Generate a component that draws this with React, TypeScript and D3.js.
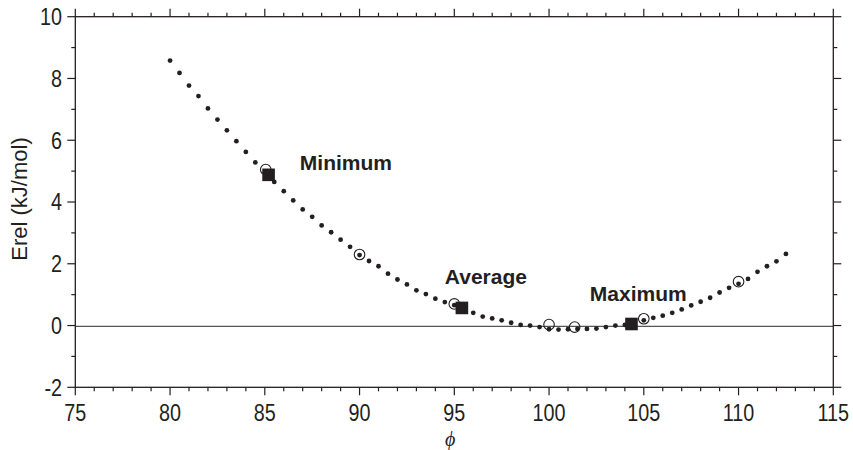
import React from "react";
import * as d3 from "d3";

// Sampled curve (small dots)
const phiDots = [
  80.0, 80.5, 81.0, 81.5, 82.0, 82.5, 83.0, 83.5, 84.0, 84.5, 85.0, 85.5, 86.0, 86.5, 87.0, 87.5,
  88.0, 88.5, 89.0, 89.5, 90.0, 90.5, 91.0, 91.5, 92.0, 92.5, 93.0, 93.5, 94.0, 94.5, 95.0, 95.5,
  96.0, 96.5, 97.0, 97.5, 98.0, 98.5, 99.0, 99.5, 100.0, 100.5, 101.0, 101.5, 102.0, 102.5, 103.0,
  103.5, 104.0, 104.5, 105.0, 105.5, 106.0, 106.5, 107.0, 107.5, 108.0, 108.5, 109.0, 109.5, 110.0,
  110.5, 111.0, 111.5, 112.0, 112.5,
];
const erelDots = [
  8.58, 8.18, 7.77, 7.43, 7.03, 6.67, 6.32, 5.97, 5.62, 5.28, 4.95, 4.65, 4.35, 4.05, 3.76, 3.52,
  3.24, 3.02, 2.78, 2.55, 2.28, 2.09, 1.92, 1.68, 1.49, 1.33, 1.14, 1.02, 0.87, 0.76, 0.66, 0.55,
  0.41, 0.29, 0.23, 0.17, 0.09, 0.02, 0.0, -0.05, -0.12, -0.13, -0.12, -0.11, -0.11, -0.1, -0.05,
  0.0, 0.02, 0.08, 0.17, 0.25, 0.32, 0.41, 0.52, 0.65, 0.77, 0.9, 1.07, 1.22, 1.35,
  1.51, 1.74, 1.92, 2.08, 2.32,
];

// Open circles
const phiCircles = [85.05, 90.0, 95.0, 100.0, 101.35, 105.0, 110.0];
const erelCircles = [5.05, 2.3, 0.7, 0.03, -0.05, 0.22, 1.42];

// Filled squares
const phiSquares = [85.2, 95.4, 104.35];
const erelSquares = [4.88, 0.57, 0.05];

// Annotations
const labelTexts = ["Minimum", "Average", "Maximum"];
const labelPhi = [86.85, 94.5, 102.15];
const labelErel = [5.04, 1.36, 0.79];

const xTicks = [75, 80, 85, 90, 95, 100, 105, 110, 115];
const yTicks = [-2, 0, 2, 4, 6, 8, 10];

const W = 853;
const H = 450;
const INK = "#231f20";

export default function App() {
  const x = d3.scaleLinear().domain([75, 115]).range([75.3, 833.3]);
  const y = d3.scaleLinear().domain([-2, 10]).range([387.3, 16.7]);
  const [x0, x1] = x.range();
  const [y0, y1] = y.range();
  const xMinor = d3.range(75, 116, 1);
  const yMinor = d3.range(-2, 11, 1);
  const font = "'Liberation Sans', Arial, Helvetica, sans-serif";

  return (
    <svg
      width={W}
      height={H}
      style={{ position: "absolute", left: 0, top: 0, background: "#fff" }}
    >
      <rect x={0} y={0} width={W} height={H} fill="#fff" />
      {/* zero line */}
      <line x1={x0} x2={x1} y1={y(0) + 0.8} y2={y(0) + 0.8} stroke="#555" strokeWidth={1.1} />

      {/* frame */}
      <rect x={x0} y={y1} width={x1 - x0} height={y0 - y1} fill="none" stroke={INK} strokeWidth={1.3} />

      {/* x ticks bottom & top */}
      {xMinor.map((v) => {
        const major = v % 5 === 0;
        const len = major ? 8 : 4;
        return (
          <g key={"xt" + v}>
            <line x1={x(v)} x2={x(v)} y1={y0} y2={y0 + len} stroke={INK} strokeWidth={1.2} />
            <line x1={x(v)} x2={x(v)} y1={y1} y2={y1 - len} stroke={INK} strokeWidth={1.2} />
          </g>
        );
      })}
      {/* y ticks left & right */}
      {yMinor.map((v) => {
        const major = v % 2 === 0;
        const len = major ? 8 : 4;
        return (
          <g key={"yt" + v}>
            <line x1={x0} x2={x0 - len} y1={y(v)} y2={y(v)} stroke={INK} strokeWidth={1.2} />
            <line x1={x1} x2={x1 + len} y1={y(v)} y2={y(v)} stroke={INK} strokeWidth={1.2} />
          </g>
        );
      })}

      {/* x tick labels */}
      {xTicks.map((v) => (
        <text
          key={"xl" + v}
          transform={`translate(${x(v)},${420.5}) scale(0.86,1)`}
          textAnchor="middle"
          fontFamily={font}
          fontSize={23}
          fill={INK}
        >
          {v}
        </text>
      ))}
      {/* y tick labels */}
      {yTicks.map((v) => (
        <text
          key={"yl" + v}
          transform={`translate(${62},${y(v) + 8.3}) scale(0.86,1)`}
          textAnchor="end"
          fontFamily={font}
          fontSize={23}
          fill={INK}
        >
          {v}
        </text>
      ))}

      {/* axis titles */}
      <text
        transform={`translate(26.5,${199}) rotate(-90)`}
        textAnchor="middle"
        fontFamily={font}
        fontSize={22}
        fill={INK}
      >
        Erel (kJ/mol)
      </text>
      <text
        x={(x0 + x1) / 2 - 4}
        y={446}
        textAnchor="middle"
        fontFamily="'Liberation Serif', 'DejaVu Serif', serif"
        fontStyle="italic"
        fontSize={20}
        fill={INK}
      >
        ϕ
      </text>

      {/* dots */}
      {phiDots.map((p, i) => (
        <circle key={"d" + i} cx={x(p)} cy={y(erelDots[i])} r={2.4} fill={INK} />
      ))}
      {/* open circles */}
      {phiCircles.map((p, i) => (
        <circle
          key={"c" + i}
          cx={x(p)}
          cy={y(erelCircles[i])}
          r={5.3}
          fill="none"
          stroke={INK}
          strokeWidth={1.1}
        />
      ))}
      {/* squares */}
      {phiSquares.map((p, i) => (
        <rect
          key={"s" + i}
          x={x(p) - 6.3}
          y={y(erelSquares[i]) - 6.3}
          width={12.6}
          height={12.6}
          fill={INK}
        />
      ))}

      {/* labels */}
      {labelTexts.map((t, i) => (
        <text
          key={"lab" + i}
          x={x(labelPhi[i])}
          y={y(labelErel[i])}
          fontFamily={font}
          fontWeight="bold"
          fontSize={21}
          fill={INK}
        >
          {t}
        </text>
      ))}
    </svg>
  );
}
